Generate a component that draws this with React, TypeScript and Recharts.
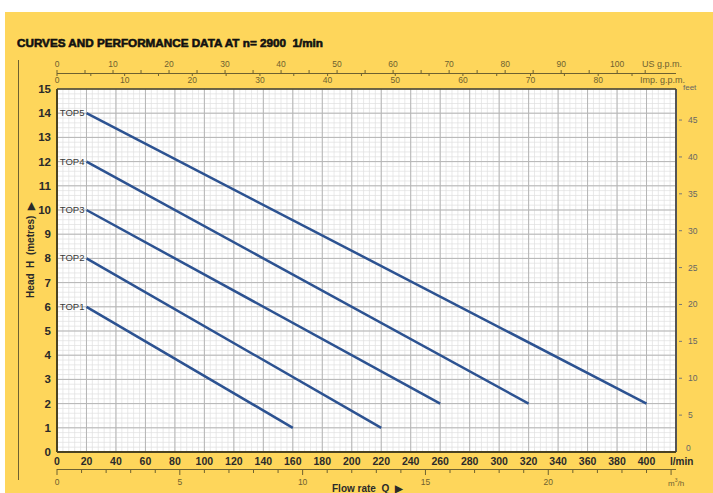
import React from 'react';
import { LineChart, Line, XAxis, YAxis, CartesianGrid, ReferenceLine } from 'recharts';

// pump curves
const curveNames = ['TOP1', 'TOP2', 'TOP3', 'TOP4', 'TOP5'];
const flowStart = [20, 20, 20, 20, 20];
const flowEnd = [160, 220, 260, 320, 400];
const headStart = [6, 8, 10, 12, 14];
const headEnd = [1, 1, 2, 2, 2];

// axis ticks
const flowTicks = [0, 20, 40, 60, 80, 100, 120, 140, 160, 180, 200, 220, 240, 260, 280, 300, 320, 340, 360, 380, 400];
const headTicks = [0, 1, 2, 3, 4, 5, 6, 7, 8, 9, 10, 11, 12, 13, 14, 15];
const feetTicks = [0, 5, 10, 15, 20, 25, 30, 35, 40, 45];
const usGpmTicks = [0, 5, 10, 15, 20, 25, 30, 35, 40, 45, 50, 55, 60, 65, 70, 75, 80, 85, 90, 95, 100, 105];
const impGpmTicks = [0, 5, 10, 15, 20, 25, 30, 35, 40, 45, 50, 55, 60, 65, 70, 75, 80, 85];
const m3hTicks = [0, 1, 2, 3, 4, 5, 6, 7, 8, 9, 10, 11, 12, 13, 14, 15, 16, 17, 18, 19, 20, 21, 22, 23, 24, 25];

// full width of the sheet in each unit
const usGpmMax = 110.5;
const impGpmMax = 91.5;
const m3hMax = 25.2;

const curves = curveNames.map((name, i) => ({
  name,
  data: [
    { q: flowStart[i], h: headStart[i] },
    { q: flowEnd[i], h: headEnd[i] },
  ],
}));

// invisible series so the extra unit axes get a domain
const usSpan = [{ us: 0, h: 0 }, { us: usGpmMax, h: 0 }];
const impSpan = [{ imp: 0, h: 0 }, { imp: impGpmMax, h: 0 }];
const m3hSpan = [{ m3: 0, h: 0 }, { m3: m3hMax, h: 0 }];

const minorX: number[] = [];
for (let v = 0; v <= 420; v += 4) minorX.push(v);
const minorY: number[] = [];
for (let v = 0; v <= 150; v += 2) minorY.push(v / 10);

const YELLOW = '#FED65B';
const OLIVE = '#6e6130';
const LINE = '#2c5291';
const NARROW = "'Liberation Sans Narrow', 'Liberation Sans', Arial, sans-serif";
const SANS = "'Liberation Sans', Arial, sans-serif";

const FlowTick = (props: any) => (
  <text x={props.x} y={465} textAnchor="middle" fontFamily={NARROW} fontWeight="bold" fontSize={10.5} fill="#2a2a2a">
    {props.payload.value}
  </text>
);

const HeadTick = (props: any) => (
  <text x={51} y={props.y + 4} textAnchor="end" fontFamily={NARROW} fontWeight="bold" fontSize={11.5} fill="#2a2a2a">
    {props.payload.value}
  </text>
);

const FeetTick = (props: any) => {
  const v = props.payload.value;
  return (
    <g>
      {v > 0 && <line x1={679} x2={682} y1={props.y} y2={props.y} stroke="#777" strokeWidth={1} />}
      <text x={v > 0 ? 688 : 686} y={v > 0 ? props.y + 3 : props.y - 1} textAnchor="start" fontFamily={NARROW} fontSize={8.5} fill="#666">
        {v}
      </text>
    </g>
  );
};

const UsTick = (props: any) => {
  const v = props.payload.value;
  return (
    <g>
      <line x1={props.x} x2={props.x} y1={73} y2={70} stroke={OLIVE} strokeWidth={1} />
      {v % 10 === 0 && (
        <text x={props.x} y={67} textAnchor="middle" fontFamily={NARROW} fontSize={8.5} fill={OLIVE}>
          {v}
        </text>
      )}
    </g>
  );
};

const ImpTick = (props: any) => {
  const v = props.payload.value;
  return (
    <g>
      <line x1={props.x} x2={props.x} y1={73} y2={76} stroke={OLIVE} strokeWidth={1} />
      {v % 10 === 0 && (
        <text x={props.x} y={83} textAnchor="middle" fontFamily={NARROW} fontSize={8.5} fill={OLIVE}>
          {v}
        </text>
      )}
    </g>
  );
};

const M3hTick = (props: any) => {
  const v = props.payload.value;
  return (
    <g>
      <line x1={props.x} x2={props.x} y1={469} y2={v % 5 === 0 ? 475 : 473} stroke={OLIVE} strokeWidth={1} />
      {v % 5 === 0 && v < 25 && (
        <text x={props.x} y={485} textAnchor="middle" fontFamily={NARROW} fontSize={8.5} fill={OLIVE}>
          {v}
        </text>
      )}
    </g>
  );
};

const renderName = (name: string) => (props: any) => {
  if (props.index !== 0) return null;
  return (
    <text x={props.x - 2} y={props.y + 3} textAnchor="end" fontFamily={SANS} fontSize={9.5} fill="#3a3a3a">
      {name}
    </text>
  );
};

const abs = (style: React.CSSProperties): React.CSSProperties => ({ position: 'absolute', ...style });

export default function App() {
  return (
    <div style={abs({ left: 0, top: 0, width: 713, height: 493, background: '#fff', overflow: 'hidden' })}>
      <div style={abs({ left: 5, top: 12, width: 708, height: 481, background: YELLOW })} />
      <div style={abs({ left: 18, top: 60, width: 1, height: 420, background: OLIVE })} />
      <div style={abs({ left: 57, top: 73, width: 619, height: 1, background: OLIVE })} />
      <div style={abs({ left: 57, top: 469, width: 619, height: 1, background: OLIVE })} />
      <div
        style={abs({
          left: 17,
          top: 36,
          fontFamily: SANS,
          fontWeight: 900,
          fontSize: 11.7,
          color: '#111',
          whiteSpace: 'pre',
          WebkitTextStroke: '0.6px #111',
        })}
      >
        {'CURVES AND PERFORMANCE DATA AT n= 2900  1/min'}
      </div>
      <LineChart
        width={713}
        height={493}
        margin={{ top: 57, right: 7, bottom: 6, left: 17 }}
        style={{ position: 'absolute', left: 0, top: 0 }}
      >
        <CartesianGrid
          xAxisId="q"
          yAxisId="h"
          fill="#fff"
          stroke="#e0e0e0"
          strokeWidth={0.7}
          verticalValues={minorX}
          horizontalValues={minorY}
        />
        <CartesianGrid
          xAxisId="q"
          yAxisId="h"
          stroke="#b5b5b5"
          strokeWidth={1}
          verticalValues={flowTicks}
          horizontalValues={headTicks}
        />
        <XAxis
          xAxisId="q"
          dataKey="q"
          type="number"
          domain={[0, 420]}
          allowDataOverflow
          ticks={flowTicks}
          interval={0}
          height={17}
          axisLine={false}
          tickLine={false}
          tick={FlowTick}
        />
        <XAxis
          xAxisId="m3h"
          dataKey="m3"
          type="number"
          domain={[0, m3hMax]}
          allowDataOverflow
          ticks={m3hTicks}
          interval={0}
          height={18}
          axisLine={false}
          tickLine={false}
          tick={M3hTick}
        />
        <XAxis
          xAxisId="imp"
          dataKey="imp"
          orientation="top"
          type="number"
          domain={[0, impGpmMax]}
          allowDataOverflow
          ticks={impGpmTicks}
          interval={0}
          height={16}
          axisLine={false}
          tickLine={false}
          tick={ImpTick}
        />
        <XAxis
          xAxisId="us"
          dataKey="us"
          orientation="top"
          type="number"
          domain={[0, usGpmMax]}
          allowDataOverflow
          ticks={usGpmTicks}
          interval={0}
          height={16}
          axisLine={false}
          tickLine={false}
          tick={UsTick}
        />
        <YAxis
          yAxisId="h"
          type="number"
          domain={[0, 15]}
          allowDataOverflow
          ticks={headTicks}
          interval={0}
          width={40}
          axisLine={false}
          tickLine={false}
          tick={HeadTick}
        />
        <YAxis
          yAxisId="feet"
          orientation="right"
          type="number"
          domain={[0, 49.21]}
          allowDataOverflow
          ticks={feetTicks}
          interval={0}
          width={30}
          axisLine={false}
          tickLine={false}
          tick={FeetTick}
        />
        <ReferenceLine xAxisId="q" yAxisId="h" x={0} stroke="#4a4222" strokeWidth={2} />
        <ReferenceLine xAxisId="q" yAxisId="h" x={420} stroke="#555" strokeWidth={2} />
        <ReferenceLine xAxisId="q" yAxisId="h" y={0} stroke="#4a4222" strokeWidth={2} />
        <ReferenceLine xAxisId="q" yAxisId="h" y={15} stroke="#4a4222" strokeWidth={1.5} />
        <Line xAxisId="us" yAxisId="h" data={usSpan} dataKey="h" stroke="none" dot={false} activeDot={false} isAnimationActive={false} />
        <Line xAxisId="imp" yAxisId="h" data={impSpan} dataKey="h" stroke="none" dot={false} activeDot={false} isAnimationActive={false} />
        <Line xAxisId="m3h" yAxisId="h" data={m3hSpan} dataKey="h" stroke="none" dot={false} activeDot={false} isAnimationActive={false} />
        {curves.map((c) => (
          <Line
            key={c.name}
            xAxisId="q"
            yAxisId="h"
            data={c.data}
            dataKey="h"
            type="linear"
            stroke={LINE}
            strokeWidth={2.5}
            dot={false}
            label={renderName(c.name)}
            isAnimationActive={false}
          />
        ))}
      </LineChart>
      <div style={abs({ left: 642, top: 59, fontFamily: NARROW, fontSize: 9, color: OLIVE })}>US g.p.m.</div>
      <div style={abs({ left: 640, top: 75, fontFamily: NARROW, fontSize: 9, color: OLIVE })}>Imp. g.p.m.</div>
      <div style={abs({ left: 683, top: 83, fontFamily: NARROW, fontSize: 8, color: '#666' })}>feet</div>
      <div style={abs({ left: 670, top: 456, fontFamily: NARROW, fontSize: 10, fontWeight: 'bold', color: '#2a2a2a' })}>l/min</div>
      <div style={abs({ left: 668, top: 477, fontFamily: NARROW, fontSize: 8, color: OLIVE })}>
        m<sup style={{ fontSize: 5 }}>3</sup>/h
      </div>
      <div style={abs({ left: 332, top: 483, fontFamily: SANS, fontSize: 10, fontWeight: 'bold', color: '#2a2a2a', whiteSpace: 'pre' })}>
        {'Flow rate  Q  \u25B6'}
      </div>
      <div
        style={abs({
          left: 30,
          top: 250,
          transform: 'translate(-50%, -50%) rotate(-90deg)',
          fontFamily: SANS,
          fontSize: 10,
          fontWeight: 'bold',
          color: '#2a2a2a',
          whiteSpace: 'pre',
        })}
      >
        {'Head  H  (metres)  \u25B6'}
      </div>
    </div>
  );
}
